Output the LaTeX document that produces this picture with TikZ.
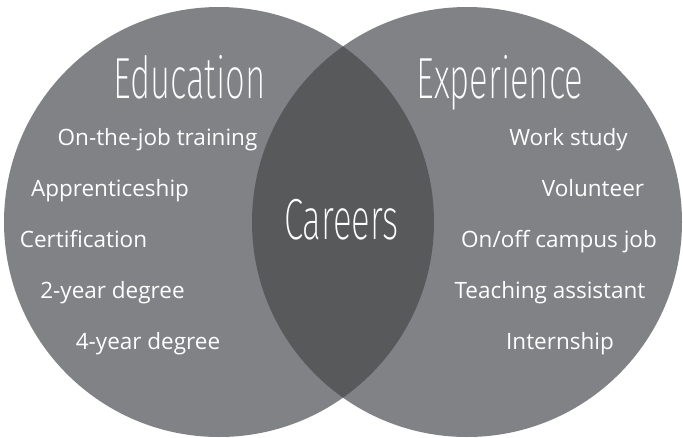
\documentclass[tikz,border=0pt]{standalone}
\usepackage{fontspec}
\setmainfont{Open Sans}
\newfontfamily\headfont{Fira Sans ExtraLight}[FakeStretch=0.6]
\definecolor{vnOuter}{HTML}{818285}
\definecolor{vnLens}{HTML}{58595B}
\tikzset{
  ring/.style  ={fill=vnOuter,draw=none},
  lens/.style  ={fill=vnLens,draw=none},
  head/.style  ={text=white,anchor=base,inner sep=0pt,font=\headfont\fontsize{58}{58}\selectfont},
  item/.style  ={text=white,anchor=base,inner sep=0pt,font=\fontsize{22.5}{22.5}\selectfont},
}

\begin{document}
\begin{tikzpicture}[x=1pt,y=-1pt]
\useasboundingbox (0,0) rectangle (683,437);
%% the two sets and their overlap
\fill[ring] (219,222) circle (215);
\fill[ring] (467,222) circle (215);
\begin{scope}
  \clip (219,222) circle (215);
  \fill[lens] (467,222) circle (215);
\end{scope}

\node[head] (edu) at (189.5,98.3) {Education};
\node[head] (exp) at (500,98.3) {Experience};
\node[head] (car) at (341.5,239) {Careers};

\foreach \x/\y/\t [count=\i] in {157.5/145/{On-the-job training}, 110/196/{Apprenticeship},
    83.5/247/{Certification}, 112.5/298/{2-year degree}, 148/349/{4-year degree}}
  \node[item] (L\i) at (\x,\y) {\t};
\foreach \x/\y/\t [count=\i] in {568.5/145/{Work study}, 593/196/{Volunteer},
    559/247/{On/off campus job}, 550/298/{Teaching assistant}, 560/349/{Internship}}
  \node[item] (R\i) at (\x,\y) {\t};
\end{tikzpicture}
\end{document}
